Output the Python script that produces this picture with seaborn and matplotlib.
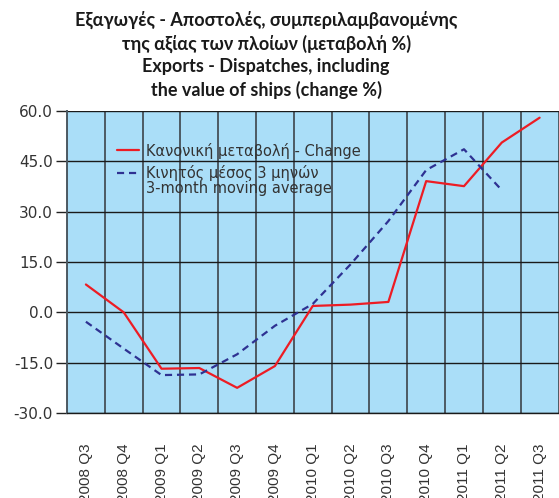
import numpy as np
import pandas as pd
import matplotlib
matplotlib.use("Agg")
import matplotlib.pyplot as plt
import seaborn as sns

# Quarterly periods
quarters = ["2008 Q3", "2008 Q4", "2009 Q1", "2009 Q2", "2009 Q3", "2009 Q4",
            "2010 Q1", "2010 Q2", "2010 Q3", "2010 Q4", "2011 Q1", "2011 Q2", "2011 Q3"]

# Year-on-year change (%)
change = [8.3, 0.0, -16.8, -16.6, -22.5, -16.0, 1.9, 2.3, 3.1, 39.1, 37.6, 50.6, 58.0]

# 3-month moving average (%)
moving_avg = [-2.8, -10.8, -18.7, -18.5, -12.5, -4.0, 2.5, 14.3, 27.2, 42.4, 48.6, 36.4, np.nan]

yticks = [60.0, 45.0, 30.0, 15.0, 0.0, -15.0, -30.0]

label_change = "Κανονική μεταβολή - Change"
label_avg = "Κινητός μέσος 3 μηνών"
label_avg_en = "3-month moving average"
title = ("Εξαγωγές - Αποστολές, συμπεριλαμβανομένης\n"
         "της αξίας των πλοίων (μεταβολή %)\n"
         "Exports - Dispatches, including\n"
         "the value of ships (change %)")

sns.set_style("white")
plt.rcParams["font.family"] = ["DejaVu Sans"]

df = pd.DataFrame({"pos": np.arange(len(quarters)),
                   "change": change,
                   "avg": moving_avg})

fig = plt.figure(figsize=(5.59, 4.98), dpi=100)
ax = fig.add_axes([67 / 559, 1 - 413 / 498, (558.5 - 67) / 559, (413 - 111) / 498])
ax.set_facecolor("#aadef8")

sns.lineplot(data=df, x="pos", y="change", ax=ax, color="#ed1c24",
             linewidth=1.6, label=label_change)
sns.lineplot(data=df.dropna(), x="pos", y="avg", ax=ax, color="#2e3192",
             linewidth=1.6, linestyle=(0, (3.2, 2.2)), label=label_avg)

ax.set_xlim(-0.5, len(quarters) - 0.5)
ax.set_ylim(-30, 60)
ax.set_yticks(yticks)
ax.set_yticklabels([f"{v:.1f}" for v in yticks], fontsize=11, color="#333333")
ax.set_xticks(np.arange(len(quarters)))
ax.set_xticklabels(quarters, rotation=90, fontsize=11, color="#333333",
                   family="Liberation Sans", va="top", ha="center")
ax.set_xticks(np.arange(-0.5, len(quarters)), minor=True)

ax.tick_params(axis="x", which="major", length=0, pad=22)
ax.tick_params(axis="x", which="minor", length=0)
ax.tick_params(axis="y", which="major", length=8, width=1.0, color="#222222",
               direction="out", pad=2, left=True)

ax.grid(axis="y", which="major", color="#1a1a1a", linewidth=1.0)
ax.grid(axis="x", which="minor", color="#4d5a63", linewidth=1.4)
ax.set_axisbelow(True)

for side in ["top", "right"]:
    ax.spines[side].set_visible(False)
ax.spines["left"].set_color("#4d5a63")
ax.spines["left"].set_linewidth(1.4)
ax.spines["bottom"].set_color("#1a1a1a")
ax.spines["bottom"].set_linewidth(1.0)

ax.set_xlabel("")
ax.set_ylabel("")

leg = ax.legend(loc="upper left", bbox_to_anchor=(0.09, 0.915), frameon=False,
                fontsize=10.5, handlelength=1.5, handletextpad=0.5,
                labelspacing=0.45, borderaxespad=0)
for t in leg.get_texts():
    t.set_color("#333333")

# English line of the moving-average label, set directly under its Greek line
fig.canvas.draw()
renderer = fig.canvas.get_renderer()
bb = leg.get_texts()[1].get_window_extent(renderer)
x0, y0 = fig.transFigure.inverted().transform((bb.x0, bb.y0))
fig.text(x0, y0, label_avg_en, ha="left", va="top", fontsize=10.5,
         color="#333333")

fig.text(0.476, 0.978, title, ha="center", va="top", fontsize=13,
         fontweight="bold", color="#1a1a1a", linespacing=1.36,
         family=["Lato", "Open Sans", "DejaVu Sans"])

fig.savefig("out.png", dpi=100)
